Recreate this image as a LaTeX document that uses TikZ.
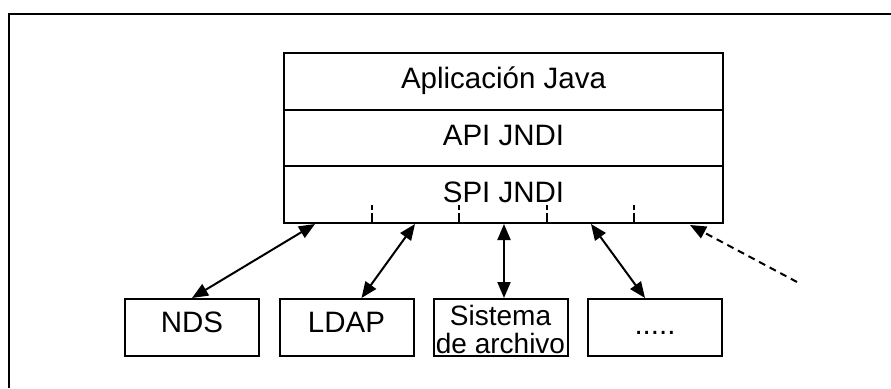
\documentclass[tikz,border=0pt]{standalone}
\usepackage{fontspec}
\setmainfont{Liberation Sans}
\usetikzlibrary{arrows.meta,calc}
\begin{document}
\begin{tikzpicture}[x=1pt,y=-1pt,
  layer/.style={draw,line width=2pt,minimum width=439pt,inner sep=0pt,
    font=\fontsize{29.5}{32}\selectfont,text height=21pt,text depth=6pt},
  leaf/.style={draw,line width=2pt,minimum width=134pt,minimum height=57pt,inner sep=0pt},
  leaftext/.style={font=\fontsize{29.5}{32}\selectfont,anchor=base,inner sep=0pt},
  link/.style={line width=2pt,{Triangle[length=16pt,width=13pt]}-{Triangle[length=16pt,width=13pt]}},
  tick/.style={line width=1.5pt,dash pattern=on 10pt off 3pt on 5pt off 100pt}]
\useasboundingbox (0,0) rectangle (891,388);
% outer frame (top and left edges visible)
\draw[line width=1.6pt] (9,388) -- (9,14) -- (891,14);
% main stack
\node[layer,minimum height=57.5pt] (app) at (503.5,81.25) {Aplicación Java};
\node[layer,minimum height=56pt] (api) at (503.5,138) {API JNDI};
\node[layer,minimum height=57pt] (spi) at (503.5,194.5) {SPI JNDI};
% ticks on the bottom of SPI
\foreach \x in {372,459,547,634}
  \draw[tick] (\x,223) -- (\x,204);
% leaf boxes
\node[leaf] (nds) at (192,327.5) {};
\node[leaf] (ldap) at (346.5,327.5) {};
\node[leaf] (fs) at (500.5,327.5) {};
\node[leaf] (more) at (655,327.5) {};
\node[leaftext] (ndst) at (192,332) {NDS};
\node[leaftext] (ldapt) at (346.5,332) {LDAP};
\node[leaftext,font=\fontsize{28}{28}\selectfont,align=center] (fst) at (500.5,353) {Sistema\\de archivo};
\node[leaftext] (moret) at (655,334) {.....};
% connection points on SPI bottom
\coordinate (s1) at (315,224);
\coordinate (s2) at (415,224);
\coordinate (s3) at (504,224);
\coordinate (s4) at (591,224);
\coordinate (s5) at (690,225);
\coordinate (free) at (797,282);
\draw[link] (s1) -- (nds.north);
\draw[link] (s2) -- ($(ldap.north)+(15,0)$);
\draw[link] (s3) -- ($(fs.north)+(3.5,0)$);
\draw[link] (s4) -- ($(more.north)+(-10,0)$);
\draw[line width=2pt,dash pattern=on 7pt off 5pt,-{Triangle[length=16pt,width=13pt]}] (free) -- (s5);
\end{tikzpicture}
\end{document}
